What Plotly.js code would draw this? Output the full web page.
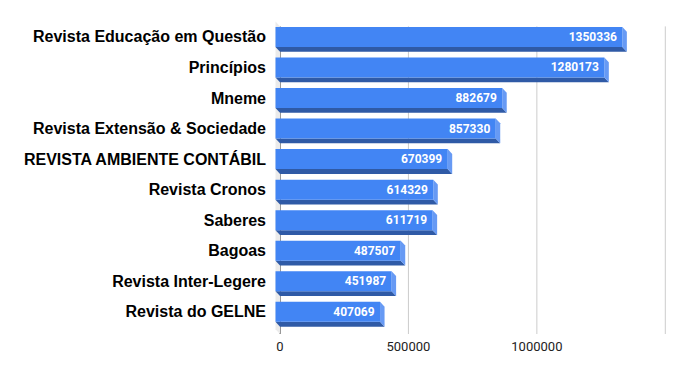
<!DOCTYPE html>
<html><head><meta charset="utf-8">
<script src="https://cdn.plot.ly/plotly-3.0.1.min.js"></script>
<style>html,body{margin:0;padding:0;background:#fff}</style></head><body>
<div id="chart" style="width:687px;height:371px"></div>
<script>
const categories = ["Revista Educação em Questão","Princípios","Mneme","Revista Extensão & Sociedade","REVISTA AMBIENTE CONTÁBIL","Revista Cronos","Saberes","Bagoas","Revista Inter-Legere","Revista do GELNE"];
const values = [1350336,1280173,882679,857330,670399,614329,611719,487507,451987,407069];
const xTickVals = [0,500000,1000000,1500000];
const xTickText = ["0","500000","1000000",""];

// geometry (pixels)
const W=687,H=371,mL=273,mR=19,mT=20,mB=37;
const plotW=W-mL-mR, plotH=H-mT-mB;
const zeroPx=7;                 // distance from plot left to x=0
const ux=1500000/385.3;         // data units per px (x)
const pitch=30.55;              // px per category
const uy=1/pitch;
const xRange=[-zeroPx*ux,(plotW-zeroPx)*ux];
const yRange=[9.5+2.1*uy,-0.5-6.4*uy];
const dx=4.5*ux, dy=4.8*uy, h=10*uy;

const idx=categories.map((c,i)=>i);

const shapes=[];
// gridlines
xTickVals.forEach(v=>{ if(v!==0) shapes.push({type:"line",xref:"x",yref:"y",x0:v,x1:v,y0:-0.5,y1:yRange[0],line:{color:"#cccccc",width:1},layer:"below"}); });
// axis line at zero
shapes.push({type:"line",xref:"x",yref:"y",x0:0,x1:0,y0:-0.5,y1:yRange[0],line:{color:"#333333",width:1},layer:"below"});
// left wall
shapes.push({type:"path",xref:"x",yref:"y",layer:"below",fillcolor:"#ebebeb",line:{width:0},
  path:`M ${-dx},${-0.5-dy} L 0,${-0.5} L 0,${yRange[0]} L ${-dx},${yRange[0]-dy} Z`});
// 3D faces of bars
values.forEach((v,i)=>{
  const c=i;
  // bottom face
  shapes.push({type:"path",xref:"x",yref:"y",layer:"below",fillcolor:"#2f5aa6",line:{width:0},
    path:`M ${-dx},${c+h-dy} L ${v-dx},${c+h-dy} L ${v},${c+h} L 0,${c+h} Z`});
  // side face
  shapes.push({type:"path",xref:"x",yref:"y",layer:"below",fillcolor:"#679af4",line:{width:0},
    path:`M ${v-dx},${c-h-dy} L ${v},${c-h} L ${v},${c+h} L ${v-dx},${c+h-dy} Z`});
});

const trace={
  type:"bar",orientation:"h",y:idx,x:values,base:values.map(()=>-dx),
  width:2*h,offset:-h-dy,
  marker:{color:"#4285f4",line:{width:0}},
  text:values.map(v=>String(v)+"\u2009"),textposition:"inside",insidetextanchor:"end",
  textangle:0,constraintext:"none",
  textfont:{family:"Roboto",size:12,color:"#ffffff",weight:"bold"},
  hoverinfo:"none",cliponaxis:false
};

const layout={
  width:W,height:H,margin:{l:mL,r:mR,t:mT,b:mB,pad:0},
  paper_bgcolor:"#ffffff",plot_bgcolor:"#ffffff",showlegend:false,
  xaxis:{range:xRange,tickvals:xTickVals,ticktext:xTickText,showgrid:false,zeroline:false,showline:false,ticks:"",
    tickfont:{family:"Roboto",size:13,color:"#222222"},ticklabelstandoff:3},
  yaxis:{range:yRange,tickvals:idx.map(i=>i-dy),ticktext:categories,showgrid:false,zeroline:false,showline:false,ticks:"",
    tickfont:{family:"Liberation Sans",size:16,color:"#000000",weight:"bold"},ticklabelstandoff:6},
  shapes:shapes
};
Plotly.newPlot("chart",[trace],layout,{displayModeBar:false,staticPlot:true});
</script></body></html>
